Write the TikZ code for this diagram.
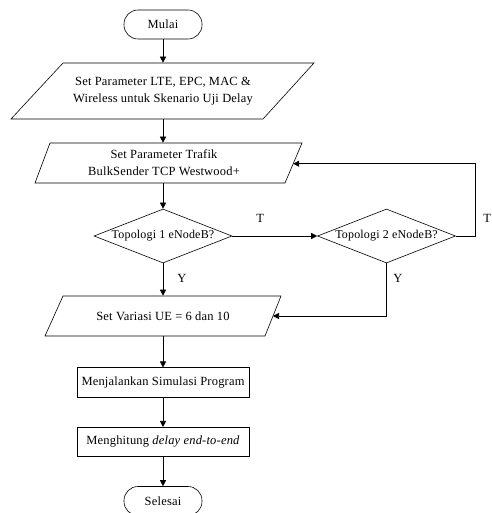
\documentclass[tikz,border=0pt]{standalone}
\usepackage{fontspec}
\setmainfont{Liberation Serif}[LetterSpace=1.5]
\usetikzlibrary{shapes.geometric,arrows.meta}
\begin{document}
\begin{tikzpicture}[x=1pt,y=-1pt,
  font=\fontsize{12.5}{16.7}\selectfont,
  every path/.style={line width=0.6pt},
  arr/.style={-{Triangle[length=6pt,width=6pt]}},
  term/.style={draw,rounded corners=14pt,minimum width=78pt,minimum height=29pt,inner sep=0pt},
  proc/.style={draw,minimum width=172pt,minimum height=29.5pt,inner sep=0pt},
  io/.style={draw=none,align=center,inner sep=0pt},
  dec/.style={draw,diamond,aspect=2.55,minimum width=138pt,minimum height=54pt,inner sep=0pt,font=\fontsize{12}{14}\selectfont},
  lbl/.style={inner sep=0pt}]
\useasboundingbox (0,0) rectangle (491,513);
% nodes
\node[term] (start) at (163,24.5) {Mulai};
\node[io,minimum height=56pt,minimum width=200pt] (p1) at (163,91) {Set Parameter LTE, EPC, MAC \&\\Wireless untuk Skenario Uji Delay};
\draw (63,63) -- (314,63) -- (263,119) -- (11,119) -- cycle;
\node[io,minimum height=40pt,minimum width=200pt] (p2) at (163,163) {\hspace{2pt}Set Parameter Trafik\\\hspace{2pt}BulkSender TCP Westwood+};
\draw (50,143) -- (302,143) -- (285,183) -- (35,183) -- cycle;
\coordinate (p2r) at (293.2,163.7);
\node[dec] (d1) at (163,236) {Topologi 1 eNodeB?};
\node[dec] (d2) at (386.5,236) {Topologi 2 eNodeB?};
\node[io,minimum height=40pt,minimum width=180pt] (p3) at (163,316) {Set Variasi UE = 6 dan 10};
\draw (63,296) -- (281,296) -- (265,336) -- (45,336) -- cycle;
\coordinate (p3r) at (273,316);
\node[proc] (r1) at (163,382.5) {Menjalankan Simulasi Program};
\node[proc] (r2) at (163,442) {Menghitung \textit{delay end-to-end}};
\node[term] (end) at (163,501) {Selesai};
\coordinate (loopB) at (475,236);
\coordinate (loopT) at (475,163.7);
\coordinate (d2down) at (386.5,316);
% connectors
\draw[arr] (start) -- (p1);
\draw[arr] (p1) -- (p2);
\draw[arr] (p2) -- (d1);
\draw[arr] (d1) -- (d2);
\draw[arr] (d2.east) -- (loopB) -- (loopT) -- (p2r);
\draw[arr] (d1) -- (p3);
\draw[arr] (d2.south) -- (d2down) -- (p3r);
\draw[arr] (p3) -- (r1);
\draw[arr] (r1) -- (r2);
\draw[arr] (r2) -- (end);
% labels
\node[lbl,anchor=west] (tl1) at (256,218) {T};
\node[lbl,anchor=west] (tl2) at (483,218) {T};
\node[lbl] (yl1) at (182,278) {Y};
\node[lbl] (yl2) at (398,278) {Y};
\end{tikzpicture}
\end{document}
